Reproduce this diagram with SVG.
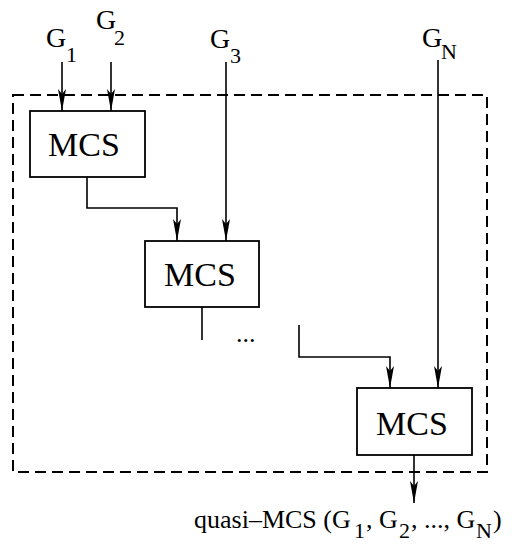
<svg xmlns="http://www.w3.org/2000/svg" width="512" height="550" viewBox="0 0 512 550" font-family="'Liberation Serif', 'Times New Roman', Times, 'DejaVu Serif', serif">
  <style>
    .box { fill: #fff; stroke: #000; stroke-width: 1.8; }
    .frame { fill: none; stroke: #000; stroke-width: 2; stroke-dasharray: 11 6; }
    .conn { fill: none; stroke: #000; stroke-width: 1.6; }
    text { font-family: 'Liberation Serif', 'Times New Roman', Times, 'DejaVu Serif', serif; fill: #000; }
    .mcs { font-size: 34px; text-anchor: middle; }
    .g { font-size: 28px; }
    .sub { font-size: 22px; }
    .out { font-size: 26px; }
  </style>
  <defs>
    <marker id="arr" viewBox="0 0 22 8" refX="22" refY="4" markerWidth="22" markerHeight="8" markerUnits="userSpaceOnUse" orient="auto">
      <path d="M0,0 L22,4 L0,8 L5,4 Z" fill="#000"/>
    </marker>
  </defs>

  <rect class="frame" x="13" y="95" width="474" height="377"/>

  <g id="connectors">
    <path class="conn" d="M62,62 V111" marker-end="url(#arr)"/>
    <path class="conn" d="M111,62 V111" marker-end="url(#arr)"/>
    <path class="conn" d="M226,62 V241" marker-end="url(#arr)"/>
    <path class="conn" d="M438,60 V388" marker-end="url(#arr)"/>
    <path class="conn" d="M87,177 V208 H177 V241" marker-end="url(#arr)"/>
    <path class="conn" d="M202,307 V340"/>
    <path class="conn" d="M299,325 V357 H390 V388" marker-end="url(#arr)"/>
    <path class="conn" d="M414,455 V503" marker-end="url(#arr)"/>
  </g>

  <g id="mcs1">
    <rect class="box" x="30" y="111" width="115" height="66"/>
    <text class="mcs" x="84" y="156">MCS</text>
  </g>
  <g id="mcs2">
    <rect class="box" x="145" y="241" width="114" height="66"/>
    <text class="mcs" x="200" y="286">MCS</text>
  </g>
  <g id="mcs3">
    <rect class="box" x="357" y="388" width="115" height="67"/>
    <text class="mcs" x="412" y="435">MCS</text>
  </g>

  <g id="g1"><text class="g" x="46" y="47">G<tspan class="sub" x="66" y="62">1</tspan></text></g>
  <g id="g2"><text class="g" x="96" y="29">G<tspan class="sub" x="114" y="45">2</tspan></text></g>
  <g id="g3"><text class="g" x="210" y="48">G<tspan class="sub" x="230" y="63">3</tspan></text></g>
  <g id="gN"><text class="g" x="422" y="47">G<tspan class="sub" x="441" y="59">N</tspan></text></g>

  <g id="dots"><text class="out" x="236" y="342">...</text></g>

  <g id="output">
    <text class="out" x="194" y="528">quasi–MCS (G<tspan class="sub" x="354" y="538">1</tspan><tspan x="366" y="528">, G</tspan><tspan class="sub" x="399" y="538">2</tspan><tspan x="411" y="528">, ..., G</tspan><tspan class="sub" x="476" y="538">N</tspan><tspan x="493" y="528">)</tspan></text>
  </g>
</svg>
